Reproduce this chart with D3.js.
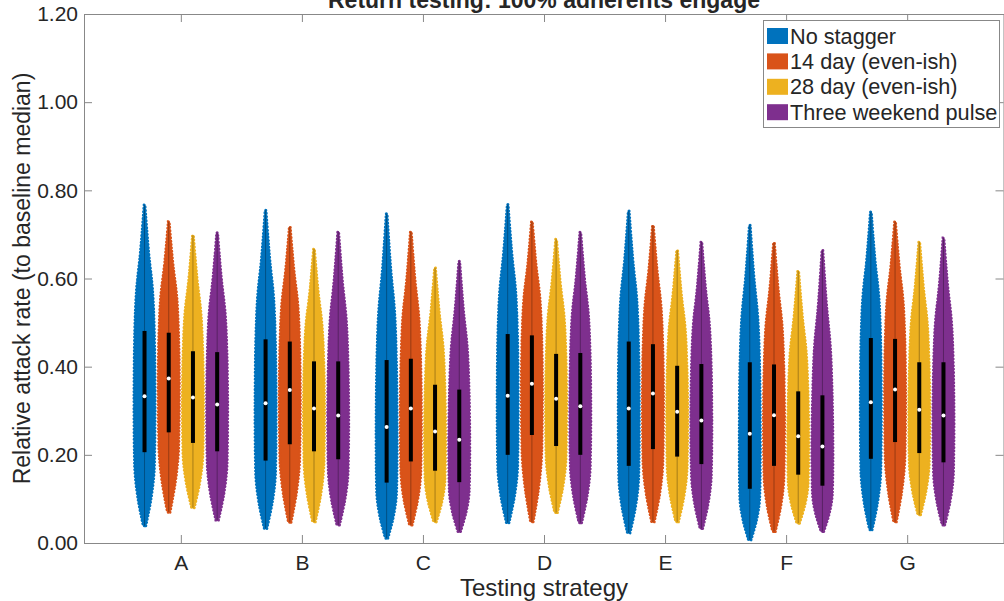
<!DOCTYPE html>
<html>
<head>
<meta charset="utf-8">
<script src="https://cdn.jsdelivr.net/npm/d3@7"></script>
<style>
  body { margin: 0; background: #fff; }
  text { font-family: "Liberation Sans", Arial, sans-serif; fill: #262626; }
</style>
</head>
<body>
<svg id="chart"></svg>
<script>
// chart data
const strategies = ["A", "B", "C", "D", "E", "F", "G"];
const seriesNames = ["No stagger", "14 day (even-ish)", "28 day (even-ish)", "Three weekend pulse"];
const seriesColors = ["#0072BD", "#D95319", "#EDB120", "#7E2F8E"];
const yTicks = [0, 0.2, 0.4, 0.6, 0.8, 1.0, 1.2];

// one row per series, one column per strategy
const mins = [
  [0.039, 0.033, 0.011, 0.046, 0.023, 0.007, 0.030],
  [0.070, 0.047, 0.041, 0.048, 0.048, 0.026, 0.048],
  [0.080, 0.048, 0.048, 0.069, 0.048, 0.045, 0.064],
  [0.052, 0.041, 0.026, 0.046, 0.033, 0.026, 0.041],
];
const q1s = [
  [0.206, 0.187, 0.137, 0.200, 0.175, 0.123, 0.191],
  [0.251, 0.224, 0.185, 0.245, 0.213, 0.175, 0.229],
  [0.227, 0.208, 0.164, 0.220, 0.196, 0.155, 0.204],
  [0.208, 0.190, 0.138, 0.200, 0.179, 0.130, 0.183],
];
const medians = [
  [0.333, 0.317, 0.263, 0.334, 0.305, 0.248, 0.319],
  [0.373, 0.347, 0.305, 0.361, 0.339, 0.290, 0.348],
  [0.330, 0.305, 0.253, 0.327, 0.298, 0.242, 0.302],
  [0.314, 0.289, 0.234, 0.310, 0.278, 0.219, 0.289],
];
const q3s = [
  [0.481, 0.462, 0.415, 0.474, 0.457, 0.410, 0.465],
  [0.477, 0.457, 0.418, 0.471, 0.451, 0.405, 0.463],
  [0.435, 0.412, 0.359, 0.429, 0.402, 0.344, 0.410],
  [0.433, 0.412, 0.348, 0.431, 0.406, 0.335, 0.410],
];
const maxs = [
  [0.767, 0.755, 0.747, 0.768, 0.753, 0.721, 0.751],
  [0.729, 0.717, 0.706, 0.729, 0.720, 0.681, 0.729],
  [0.698, 0.667, 0.624, 0.689, 0.664, 0.617, 0.683],
  [0.704, 0.706, 0.639, 0.705, 0.683, 0.664, 0.692],
];

// canvas variables
const width = 1004;
const height = 601;
const plotLeft = 84;
const plotRight = 1004;
const plotTop = 14;
const plotBottom = 543;
const axisColor = "#888";
const offsets = [-0.3, -0.1, 0.1, 0.3];

const svg = d3.select("#chart").attr("width", width).attr("height", height);

const xScale = d3.scaleLinear().domain([0.2, 7.8]).range([plotLeft, plotRight]);
const yScale = d3.scaleLinear().domain([0, 1.2]).range([plotBottom, plotTop]);
const halfW = (xScale(1) - xScale(0)) * 0.087;

// flatten into violins
const violins = [];
seriesNames.forEach((name, s) => {
  strategies.forEach((st, g) => {
    violins.push({
      s, g,
      cx: xScale(g + 1 + offsets[s]),
      min: mins[s][g], q1: q1s[s][g], med: medians[s][g], q3: q3s[s][g], max: maxs[s][g],
    });
  });
});

// violin outline from the summary values
const profile = (d) => {
  const lo = d.q1 - d.min;
  const hi = d.max - d.q3;
  return [
    [d.min, 0.12],
    [d.min + lo * 0.35, 0.6],
    [d.min + lo * 0.7, 0.9],
    [d.q1, 0.97],
    [d.med, 1.0],
    [d.q3, 0.93],
    [d.q3 + hi * 0.33, 0.76],
    [d.q3 + hi * 0.6, 0.42],
    [d.q3 + hi * 0.8, 0.22],
    [d.max, 0.04],
  ];
};

const area = d3
  .area()
  .curve(d3.curveCatmullRom)
  .y((p) => yScale(p[0]))
  .x0((p) => p.cx - p[1] * halfW)
  .x1((p) => p.cx + p[1] * halfW);

const vg = svg.append("g").attr("class", "violins");

violins.forEach((d) => {
  const pts = profile(d).map((p) => Object.assign(p, { cx: d.cx }));
  const c = seriesColors[d.s];
  // body
  vg.append("path").attr("d", area(pts)).attr("fill", c).attr("stroke", c).attr("stroke-width", 1);
  // dotted scatter edge
  vg.append("path")
    .attr("d", area(pts))
    .attr("fill", "none")
    .attr("stroke", c)
    .attr("stroke-width", 3)
    .attr("stroke-linecap", "round")
    .attr("stroke-dasharray", "0.1 3.3");
  // whisker
  vg.append("line")
    .attr("x1", d.cx).attr("x2", d.cx)
    .attr("y1", yScale(d.min)).attr("y2", yScale(d.max))
    .attr("stroke", "#000").attr("stroke-opacity", 0.3).attr("stroke-width", 1);
  // iqr box
  vg.append("rect")
    .attr("x", d.cx - 2).attr("width", 4)
    .attr("y", yScale(d.q3)).attr("height", yScale(d.q1) - yScale(d.q3))
    .attr("fill", "#000");
  // median
  vg.append("circle").attr("cx", d.cx).attr("cy", yScale(d.med)).attr("r", 2).attr("fill", "#fff");
});

// axes
const styleAxis = (g) => {
  g.selectAll("path, line").attr("stroke", axisColor);
  g.selectAll("text").attr("fill", "#262626").style("font-family", '"Liberation Sans", Arial, sans-serif');
};

svg.append("g")
  .attr("transform", `translate(0, ${plotBottom})`)
  .call(d3.axisBottom(xScale).tickValues([1, 2, 3, 4, 5, 6, 7]).tickFormat((d) => strategies[d - 1])
    .tickSizeInner(-8).tickSizeOuter(0).tickPadding(12))
  .call(styleAxis)
  .selectAll("text").style("font-size", "21px");

svg.append("g")
  .attr("transform", `translate(0, ${plotTop})`)
  .call(d3.axisTop(xScale).tickValues([1, 2, 3, 4, 5, 6, 7]).tickFormat("").tickSizeInner(-8).tickSizeOuter(0))
  .call(styleAxis);

svg.append("g")
  .attr("transform", `translate(${plotLeft}, 0)`)
  .call(d3.axisLeft(yScale).tickValues(yTicks).tickFormat(d3.format(".2f"))
    .tickSizeInner(-8).tickSizeOuter(0).tickPadding(6))
  .call(styleAxis)
  .selectAll("text").style("font-size", "21px");

svg.append("g")
  .attr("transform", `translate(${plotRight - 0.5}, 0)`)
  .call(d3.axisRight(yScale).tickValues(yTicks).tickFormat("").tickSizeInner(-8).tickSizeOuter(0))
  .call(styleAxis);

// title
svg.append("text")
  .attr("x", (plotLeft + plotRight) / 2)
  .attr("y", 8)
  .style("font-size", "23px")
  .style("font-weight", "bold")
  .style("text-anchor", "middle")
  .text("Return testing: 100% adherents engage");

// labels
svg.append("text")
  .attr("x", (plotLeft + plotRight) / 2)
  .attr("y", 596)
  .style("font-size", "24px")
  .style("text-anchor", "middle")
  .text("Testing strategy");

svg.append("text")
  .attr("transform", "rotate(-90)")
  .attr("x", -(plotTop + plotBottom) / 2)
  .attr("y", 30)
  .style("font-size", "23px")
  .style("text-anchor", "middle")
  .text("Relative attack rate (to baseline median)");

// legend
const legend = svg.append("g").attr("class", "legend");
legend.append("rect")
  .attr("x", 763.5).attr("y", 20.5).attr("width", 236).attr("height", 107)
  .attr("fill", "#fff").attr("stroke", axisColor);

seriesNames.forEach((name, i) => {
  const cy = 36 + i * 25.4;
  legend.append("rect")
    .attr("x", 767).attr("y", cy - 8).attr("width", 21).attr("height", 16)
    .attr("fill", seriesColors[i]);
  legend.append("text")
    .attr("x", 790).attr("y", cy + 7.5)
    .style("font-size", "21.7px")
    .text(name);
});
</script>
</body>
</html>
